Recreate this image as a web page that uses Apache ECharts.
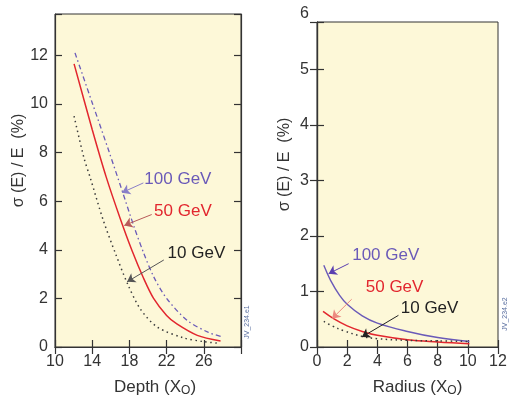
<!DOCTYPE html>
<html>
<head>
<meta charset="utf-8">
<script src="https://cdn.jsdelivr.net/npm/echarts@6/dist/echarts.min.js"></script>
<style>
  html, body { margin: 0; padding: 0; background: #fff; }
  #chart { width: 513px; height: 402px; }
</style>
</head>
<body>
<div id="chart"></div>
<script>
// left panel: resolution vs depth (X0), values in %
const depth100 = [[12.15, 12.1], [14, 10.05], [15.8, 8.05], [17.2, 6.45], [18.5, 4.95], [19.5, 3.9], [20.6, 2.9], [22, 2.0], [24.2, 1.1], [26.5, 0.6], [28, 0.42]]
const depth50 = [[12.05, 11.65], [14, 8.95], [15.5, 7.0], [17, 5.3], [18.3, 3.95], [19.5, 2.85], [20.6, 2.0], [22, 1.3], [23.1, 0.95], [25.3, 0.48], [27.8, 0.25]]
const depth10 = [[12.05, 9.5], [13.1, 7.8], [13.8, 6.95], [15.2, 5.2], [16.5, 3.85], [17.8, 2.6], [19.2, 1.55], [21, 0.82], [23.8, 0.38], [26, 0.22], [27.5, 0.16]]

// right panel: resolution vs radius (X0), values in %
const radius100 = [[0.45, 1.47], [0.9, 1.2], [1.5, 0.93], [2, 0.77], [3, 0.56], [4, 0.43], [6, 0.28], [8, 0.17], [10.1, 0.1]]
const radius50 = [[0.4, 0.64], [1.1, 0.51], [2, 0.38], [3, 0.28], [4, 0.21], [6, 0.13], [8, 0.09], [10.1, 0.06]]
const radius10 = [[0.45, 0.46], [1, 0.38], [1.8, 0.29], [3, 0.19], [4, 0.15], [6, 0.12], [8, 0.11], [10.1, 0.1]]

const depthTicks = [10, 14, 18, 22, 26]
const radiusTicks = [0, 2, 4, 6, 8, 10, 12]
const sigmaTicksLeft = [0, 2, 4, 6, 8, 10, 12]
const sigmaTicksRight = [0, 1, 2, 3, 4, 5]

const purple = '#6a5ab8'
const red = '#e2262e'
const dark = '#3c3c3c'
const frame = '#333'
const font = 'Liberation Sans, Arial, sans-serif'

const chart = echarts.init(document.getElementById('chart'))

function onlyTicks(list) {
  return v => (list.indexOf(v) >= 0 ? String(v) : '')
}

function baseAxis(extra) {
  return Object.assign({
    type: 'value',
    axisLine: { show: true, lineStyle: { color: frame, width: 1.2 } },
    axisTick: { show: true, inside: true, length: 7, lineStyle: { color: frame, width: 1.2 } },
    splitLine: { show: false },
    axisLabel: { color: '#333', fontSize: 16, fontFamily: font, margin: 7 }
  }, extra)
}

function mirrorAxis(extra) {
  return baseAxis(Object.assign({ axisLabel: { show: false } }, extra))
}

const nameRich = {
  s: { fontSize: 12, fontFamily: font, color: '#333', padding: [8, 0, 0, 0] }
}

function arrow(from, to, color) {
  return {
    silent: true,
    symbol: ['none', 'arrow'],
    symbolSize: 8,
    label: { show: false },
    lineStyle: { color: color, width: 1, type: 'solid' },
    data: [[{ coord: from }, { coord: to }]]
  }
}

function note(at, text, color) {
  return {
    silent: true,
    symbol: 'circle',
    symbolSize: 1,
    itemStyle: { color: 'rgba(0,0,0,0)' },
    label: { show: true, position: 'right', distance: 0, formatter: text, color: color, fontSize: 17, fontFamily: font },
    data: [{ coord: at }]
  }
}

chart.setOption({
  animation: false,
  grid: [
    { left: 55, top: 14, width: 186, height: 333, show: true, backgroundColor: '#fdf8d8', borderColor: frame, borderWidth: 1 },
    { left: 317, top: 22, width: 181, height: 325, show: true, backgroundColor: '#fdf8d8', borderColor: frame, borderWidth: 1 }
  ],
  xAxis: [
    baseAxis({
      gridIndex: 0, min: 10, max: 30, interval: 4,
      axisLabel: { color: '#333', fontSize: 16, fontFamily: font, margin: 7, formatter: onlyTicks(depthTicks) },
      name: 'Depth (X{s|O})', nameLocation: 'middle', nameGap: 30,
      nameTextStyle: { color: '#333', fontSize: 17, fontFamily: font, padding: [0, 0, 0, 14], rich: nameRich }
    }),
    mirrorAxis({ gridIndex: 0, position: 'top', min: 10, max: 30, interval: 4 }),
    baseAxis({
      gridIndex: 1, min: 0, max: 12, interval: 2,
      axisLabel: { color: '#333', fontSize: 16, fontFamily: font, margin: 7, formatter: onlyTicks(radiusTicks) },
      name: 'Radius (X{s|O})', nameLocation: 'middle', nameGap: 30,
      nameTextStyle: { color: '#333', fontSize: 17, fontFamily: font, padding: [0, 0, 0, 20], rich: nameRich }
    }),
    mirrorAxis({ gridIndex: 1, position: 'top', min: 0, max: 12, interval: 2 })
  ],
  yAxis: [
    baseAxis({
      gridIndex: 0, min: 0, max: 13.7, interval: 2,
      axisLabel: { color: '#333', fontSize: 16, fontFamily: font, margin: 7, formatter: onlyTicks(sigmaTicksLeft) },
      name: 'σ (E) / E  (%)', nameLocation: 'middle', nameRotate: 90, nameGap: 27,
      nameTextStyle: { color: '#333', fontSize: 16, fontFamily: font, padding: [0, 0, 0, 40] }
    }),
    mirrorAxis({ gridIndex: 0, position: 'right', min: 0, max: 13.7, interval: 2 }),
    baseAxis({
      gridIndex: 1, min: 0, max: 5.85, interval: 1,
      axisLabel: { color: '#333', fontSize: 16, fontFamily: font, margin: 8, formatter: onlyTicks(sigmaTicksRight) },
      name: 'σ (E) / E  (%)', nameLocation: 'middle', nameRotate: 90, nameGap: 24,
      nameTextStyle: { color: '#333', fontSize: 16, fontFamily: font, padding: [0, 0, 0, 40] }
    }),
    mirrorAxis({ gridIndex: 1, position: 'right', min: 0, max: 5.85, interval: 1 })
  ],
  series: [
    {
      name: '100 GeV depth', type: 'line', xAxisIndex: 0, yAxisIndex: 0, data: depth100,
      smooth: 0.3, symbol: 'none', lineStyle: { color: purple, width: 1.3, type: [5, 3, 1.5, 3] },
      markLine: arrow([19.5, 6.75], [17.2, 6.35], '#8a7fc8'),
      markPoint: note([19.55, 6.9], '100 GeV', purple)
    },
    {
      name: '50 GeV depth', type: 'line', xAxisIndex: 0, yAxisIndex: 0, data: depth50,
      smooth: 0.3, symbol: 'none', lineStyle: { color: red, width: 1.5 },
      markLine: arrow([20.4, 5.45], [17.45, 5.0], '#b85a5a'),
      markPoint: note([20.6, 5.6], '50 GeV', red)
    },
    {
      name: '10 GeV depth', type: 'line', xAxisIndex: 0, yAxisIndex: 0, data: depth10,
      smooth: 0.3, symbol: 'none', lineStyle: { color: dark, width: 1.5, type: [1.5, 3.5] },
      markLine: arrow([21.7, 3.58], [17.75, 2.68], '#555'),
      markPoint: note([22.05, 3.86], '10 GeV', '#222')
    },
    {
      name: '100 GeV radius', type: 'line', xAxisIndex: 2, yAxisIndex: 2, data: radius100,
      smooth: 0.4, symbol: 'none', lineStyle: { color: purple, width: 1.4 },
      markLine: arrow([2.1, 1.5], [0.77, 1.32], '#5a3fb0'),
      markPoint: note([2.3, 1.65], '100 GeV', purple)
    },
    {
      name: '50 GeV radius', type: 'line', xAxisIndex: 2, yAxisIndex: 2, data: radius50,
      smooth: 0.4, symbol: 'none', lineStyle: { color: red, width: 1.5 },
      markLine: arrow([2.3, 0.86], [1.0, 0.51], '#ec8a80'),
      markPoint: note([3.2, 1.08], '50 GeV', red)
    },
    {
      name: '10 GeV radius', type: 'line', xAxisIndex: 2, yAxisIndex: 2, data: radius10,
      smooth: 0.4, symbol: 'none', lineStyle: { color: dark, width: 1.5, type: [1.5, 3.5] },
      markLine: arrow([5.4, 0.57], [2.98, 0.18], '#222'),
      markPoint: note([5.52, 0.69], '10 GeV', '#222')
    }
  ]
})

// the "6" tick label sits above the right frame, plus the small figure ids
const six = chart.convertToPixel({ xAxisIndex: 2, yAxisIndex: 2 }, [0, 6])
chart.setOption({
  graphic: [
    { type: 'text', x: six[0] - 8, y: six[1], style: { text: '6', fill: '#333', fontSize: 16, fontFamily: font, align: 'right', verticalAlign: 'middle' } },
    { type: 'text', x: 247, y: 322, rotation: Math.PI / 2, style: { text: 'JV_234.e1', fill: '#5a6fa0', fontSize: 7, fontFamily: font, align: 'center', verticalAlign: 'middle' } },
    { type: 'text', x: 505, y: 314, rotation: Math.PI / 2, style: { text: 'JV_234.e2', fill: '#5a6fa0', fontSize: 7, fontFamily: font, align: 'center', verticalAlign: 'middle' } }
  ]
})
</script>
</body>
</html>
